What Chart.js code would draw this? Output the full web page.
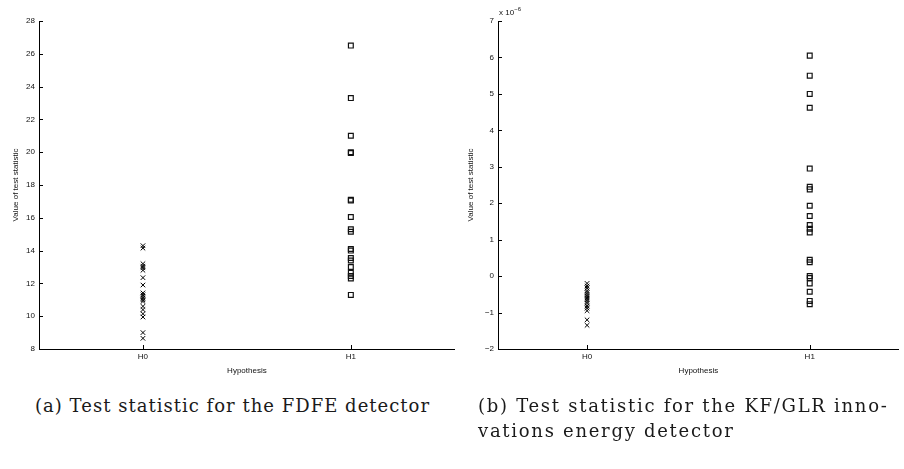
<!DOCTYPE html>
<html>
<head>
<meta charset="utf-8">
<script src="https://cdn.jsdelivr.net/npm/chart.js@4"></script>
<style>
  body { margin: 0; background: #fff; width: 904px; height: 469px; position: relative; overflow: hidden; }
  canvas { position: absolute; top: 0; }
  #chartA { left: 0; }
  #chartB { left: 455px; }
  .cap { position: absolute; font-family: "DejaVu Serif", serif; font-size: 18px; color: #1a1a1a; line-height: 25px; white-space: nowrap; }
  #expo { position: absolute; left: 499px; top: 6px; font-family: "Liberation Sans", Arial, sans-serif; font-size: 8px; color: #111; }
  #expo sup { font-size: 6px; }
</style>
</head>
<body>
<canvas id="chartA" width="460" height="378"></canvas>
<canvas id="chartB" width="449" height="378"></canvas>
<div id="expo">x 10<sup>&minus;6</sup></div>
<div class="cap" data-w="394" style="left:35px; top:393px;"><span>(a) Test statistic for the FDFE detector</span></div>
<div class="cap" data-w="409" style="left:478px; top:393px;"><span>(b) Test statistic for the KF/GLR inno-</span><br><span>vations energy detector</span></div>
<script>
// hypotheses on the x axis
var hypLabels = ['H0', 'H1'];

// (a) FDFE detector test statistic
var fdfeH0 = [14.3, 14.15, 13.2, 13.05, 12.95, 12.8, 12.35, 11.9, 11.42, 11.3, 11.2, 11.1, 11.0, 10.9, 10.6, 10.4, 10.15, 9.95, 9.0, 8.65];
var fdfeH1 = [26.5, 23.3, 21.0, 20.0, 19.95, 17.1, 17.05, 16.05, 15.3, 15.15, 14.1, 14.0, 13.55, 13.4, 13.0, 12.65, 12.45, 12.3, 11.3];

// (b) KF/GLR innovations energy detector, in units of 1e-6
var kfH0 = [-0.2, -0.27, -0.33, -0.4, -0.45, -0.5, -0.55, -0.6, -0.65, -0.7, -0.75, -0.82, -0.88, -0.95, -1.2, -1.35];
var kfH1 = [6.05, 5.5, 5.0, 4.62, 2.95, 2.45, 2.38, 1.93, 1.65, 1.4, 1.3, 1.2, 0.45, 0.38, 0.0, -0.05, -0.2, -0.43, -0.68, -0.77];

// tick values
var fdfeTicks = [8, 10, 12, 14, 16, 18, 20, 22, 24, 26, 28];
var kfTicks = [-2, -1, 0, 1, 2, 3, 4, 5, 6, 7];

var tickFont = { family: 'Liberation Sans', size: 8 };

function toPoints(xVal, values) {
    return values.map(function (v) { return { x: xVal, y: v }; });
}

// matlab style ticks pointing into the plot
var inTicks = {
    id: 'inTicks',
    afterDraw: function (chart) {
        var ctx = chart.ctx;
        var xs = chart.scales.x, ys = chart.scales.y;
        var area = chart.chartArea;
        ctx.save();
        ctx.strokeStyle = '#000';
        ctx.lineWidth = 1;
        ctx.beginPath();
        xs.ticks.forEach(function (t) {
            var px = Math.round(xs.getPixelForValue(t.value)) + 0.5;
            ctx.moveTo(px, area.bottom);
            ctx.lineTo(px, area.bottom - 4);
        });
        ys.ticks.forEach(function (t) {
            var py = Math.round(ys.getPixelForValue(t.value)) + 0.5;
            ctx.moveTo(area.left, py);
            ctx.lineTo(area.left + 4, py);
        });
        ctx.stroke();
        ctx.restore();
    }
};

function createPanel(id, h0, h1, yTicks, xMin, xMax, yWidth, padRight) {
    var ctx = document.getElementById(id).getContext('2d');
    return new Chart(ctx, {
        type: 'scatter',
        data: {
            datasets: [
                {
                    label: hypLabels[0],
                    data: toPoints(1, h0),
                    pointStyle: 'crossRot',
                    pointRadius: 3.2,
                    borderColor: '#000',
                    backgroundColor: '#000',
                    borderWidth: 1
                },
                {
                    label: hypLabels[1],
                    data: toPoints(2, h1),
                    pointStyle: 'rect',
                    pointRadius: 3.4,
                    borderColor: '#111',
                    backgroundColor: 'transparent',
                    borderWidth: 1.2
                }
            ]
        },
        options: {
            responsive: false,
            animation: false,
            devicePixelRatio: 1,
            layout: { padding: { left: 7, top: 21, right: padRight, bottom: 0 } },
            plugins: {
                legend: { display: false },
                tooltip: { enabled: false }
            },
            scales: {
                x: {
                    type: 'linear',
                    min: xMin,
                    max: xMax,
                    afterBuildTicks: function (scale) {
                        scale.ticks = [{ value: 1 }, { value: 2 }];
                    },
                    afterFit: function (scale) { scale.height = 29; },
                    ticks: {
                        font: tickFont,
                        color: '#111',
                        padding: 3,
                        callback: function (v) { return hypLabels[v - 1]; }
                    },
                    grid: { display: false, drawTicks: false },
                    border: { display: true, color: '#000', width: 1 },
                    title: { display: true, text: 'Hypothesis', font: tickFont, color: '#111', padding: 2 }
                },
                y: {
                    min: yTicks[0],
                    max: yTicks[yTicks.length - 1],
                    afterBuildTicks: function (scale) {
                        scale.ticks = yTicks.map(function (v) { return { value: v }; });
                    },
                    afterFit: function (scale) { scale.width = yWidth; },
                    ticks: {
                        font: tickFont,
                        color: '#111',
                        padding: 4,
                        callback: function (v) { return String(v).replace('-', '\u2212'); }
                    },
                    grid: { display: false, drawTicks: false },
                    border: { display: true, color: '#000', width: 1 },
                    title: { display: true, text: 'Value of test statistic', font: tickFont, color: '#111', padding: 4 }
                }
            }
        },
        plugins: [inTicks]
    });
}

// stretch each caption so its first line has the width seen in the figure
function fitCaptions() {
    document.querySelectorAll('.cap').forEach(function (c) {
        var target = parseFloat(c.getAttribute('data-w'));
        var first = c.querySelector('span');
        var n = first.textContent.length - 1;
        var w = first.getBoundingClientRect().width;
        c.style.letterSpacing = ((target - w) / n).toFixed(2) + 'px';
    });
}

document.addEventListener('DOMContentLoaded', function () {
    createPanel('chartA', fdfeH0, fdfeH1, fdfeTicks, 0.5, 2.5, 32, 5);
    createPanel('chartB', kfH0, kfH1, kfTicks, 0.6, 2.4, 36, 3);
    fitCaptions();
});
</script>
</body>
</html>
